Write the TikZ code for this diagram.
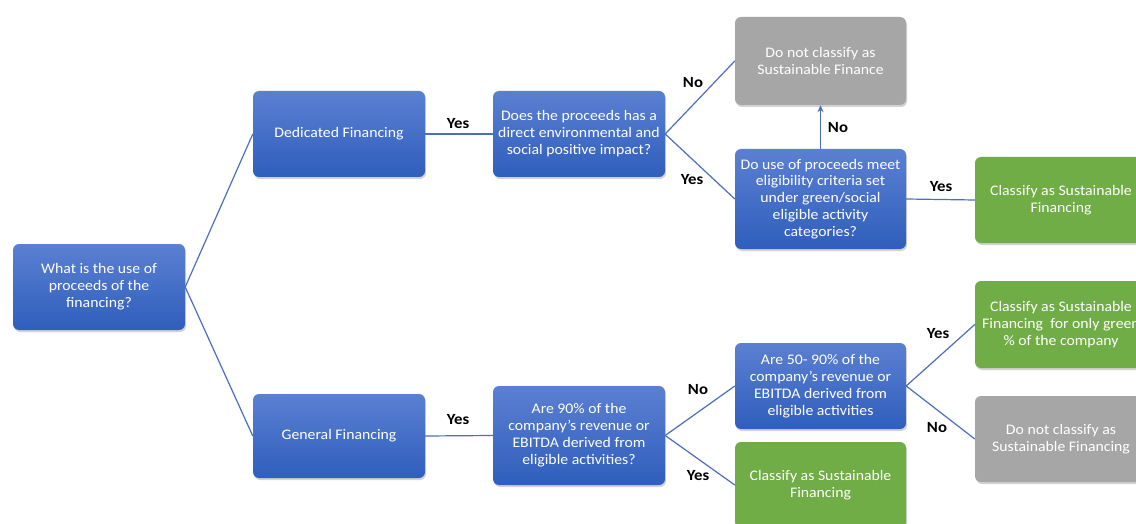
\documentclass[tikz,border=0pt]{standalone}
\usepackage{fontspec}
\setmainfont{Carlito}[FakeStretch=1.08]
\usetikzlibrary{shadows,arrows.meta}
\definecolor{bluetop}{HTML}{5B80D2}
\definecolor{bluebot}{HTML}{2F5EBC}
\definecolor{greenbox}{HTML}{70AD47}
\definecolor{greybox}{HTML}{A6A6A6}
\definecolor{linec}{HTML}{4A6FBF}
\tikzset{
  box/.style={rounded corners=6pt, minimum width=172pt, minimum height=86pt,
    align=center, text=white, font=\fontsize{14.6}{16.9}\selectfont, inner sep=2pt,
    drop shadow={shadow xshift=1pt, shadow yshift=-2pt, opacity=0.35}},
  bluebox/.style={box, top color=bluetop, bottom color=bluebot, draw=none},
  greenb/.style={box, fill=greenbox},
  greyb/.style={box, fill=greybox},
  conn/.style={draw=linec, line width=1.2pt},
  lbl/.style={font=\fontsize{15.5}{18}\bfseries, text=black, inner sep=1pt}
}
\begin{document}
\begin{tikzpicture}[x=1pt,y=-1pt]
\useasboundingbox (0,0) rectangle (1136,524);
\clip (0,0) rectangle (1136,524);
\fill[white] (0,0) rectangle (1136,524);
% nodes
\node[bluebox] (root) at (99,287) {What is the use of\\proceeds of the\\financing?};
\node[bluebox] (df) at (339,134) {Dedicated Financing};
\node[bluebox] (q1) at (579,134) {Does the proceeds has a\\direct environmental and\\social positive impact?};
\node[greyb, minimum width=171pt, minimum height=88pt] (g1) at (820.5,61) {Do not classify as\\Sustainable Finance};
\node[bluebox, minimum width=171pt, minimum height=100pt] (q2) at (820.5,199) {Do use of proceeds meet\\eligibility criteria set\\under green/social\\eligible activity\\categories?};
\node[greenb] (s1) at (1061,200) {Classify as Sustainable\\Financing};
\node[bluebox, minimum height=84pt] (gf) at (339,436) {General Financing};
\node[bluebox, minimum height=99pt] (q3) at (579,435.5) {Are 90\% of the\\company’s revenue or\\EBITDA derived from\\eligible activities?};
\node[bluebox, minimum width=171pt] (q4) at (820.5,386) {Are 50- 90\% of the\\company’s revenue or\\EBITDA derived from\\eligible activities};
\node[greenb, minimum width=171pt] (s2) at (820.5,485) {Classify as Sustainable\\Financing};
\node[greenb, minimum height=87pt] (s3) at (1061,324.5) {Classify as Sustainable\\Financing\ \ for only green\\\% of the company};
\node[greyb] (g2) at (1061,439) {Do not classify as\\Sustainable Financing};
% connectors
\draw[conn] (root.east) -- (df.west);
\draw[conn] (root.east) -- (gf.west);
\draw[conn] (df.east) -- (q1.west);
\draw[conn] (q1.east) -- (g1.west);
\draw[conn] (q1.east) -- (q2.west);
\draw[conn, -{Stealth[length=7pt,width=6pt]}] (q2.north) -- (g1.south);
\draw[conn] (q2.east) -- (s1.west);
\draw[conn] (gf.east) -- (q3.west);
\draw[conn] (q3.east) -- (q4.west);
\draw[conn] (q3.east) -- (s2.west);
\draw[conn] (q4.east) -- (s3.west);
\draw[conn] (q4.east) -- (g2.west);
% labels
\node[lbl] (l1) at (458,124) {Yes};
\node[lbl] (l2) at (693,83) {No};
\node[lbl] (l3) at (692,180) {Yes};
\node[lbl] (l4) at (838,128) {No};
\node[lbl] (l5) at (941,187) {Yes};
\node[lbl] (l6) at (458,420) {Yes};
\node[lbl] (l7) at (698,390) {No};
\node[lbl] (l8) at (698,476) {Yes};
\node[lbl] (l9) at (938,334) {Yes};
\node[lbl] (l10) at (937,428) {No};
\end{tikzpicture}
\end{document}
